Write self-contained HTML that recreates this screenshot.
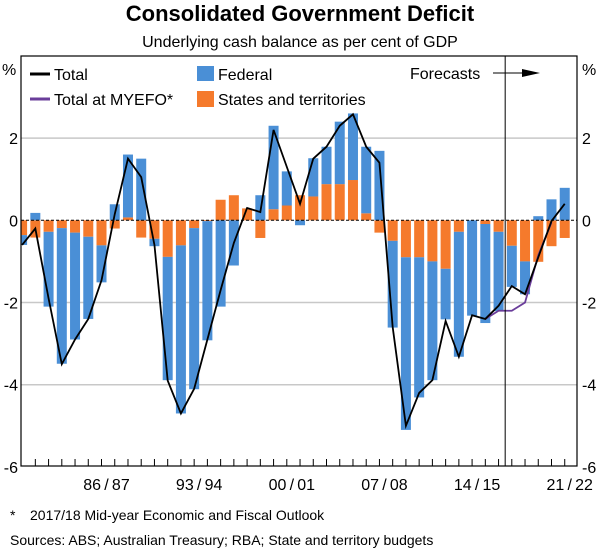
<!DOCTYPE html>
<html><head><meta charset="utf-8"><style>
body{margin:0;background:#fff;}
svg{display:block;font-family:"Liberation Sans",Arial,sans-serif;}
</style></head><body>
<svg id="chart" width="600" height="554" viewBox="0 0 600 554">
<text x="300" y="21" text-anchor="middle" font-size="22" font-weight="bold">Consolidated Government Deficit</text>
<text x="300" y="47" text-anchor="middle" font-size="16">Underlying cash balance as per cent of GDP</text>
<g id="grid"></g>
<g id="bars"></g>
<g id="zero"></g>
<g id="lines"></g>
<g id="axes"></g>
<g>
 <line x1="30" y1="74" x2="50" y2="74" stroke="#000" stroke-width="3"/>
 <text x="54" y="80" font-size="16">Total</text>
 <line x1="30" y1="99" x2="50" y2="99" stroke="#6a3d9a" stroke-width="3"/>
 <text x="54" y="105" font-size="16">Total at MYEFO*</text>
 <rect x="197" y="66" width="17" height="15" fill="#4a8fd6"/>
 <text x="218" y="80" font-size="16">Federal</text>
 <rect x="197" y="91" width="17" height="16" fill="#f57a2c"/>
 <text x="218" y="105" font-size="16">States and territories</text>
</g>
<g>
 <text x="410" y="79" font-size="16">Forecasts</text>
 <line x1="493" y1="73" x2="530" y2="73" stroke="#000" stroke-width="1"/>
 <polygon points="540,73 522,69 522,77" fill="#000"/>
</g>
<text x="10" y="520" font-size="14">*</text>
<text x="30" y="520" font-size="14">2017/18 Mid-year Economic and Fiscal Outlook</text>
<text x="10" y="545" font-size="14">Sources: ABS; Australian Treasury; RBA; State and territory budgets</text>
</svg>
<script>
const years = ["80/81","81/82","82/83","83/84","84/85","85/86","86/87","87/88","88/89","89/90","90/91","91/92","92/93","93/94","94/95","95/96","96/97","97/98","98/99","99/00","00/01","01/02","02/03","03/04","04/05","05/06","06/07","07/08","08/09","09/10","10/11","11/12","12/13","13/14","14/15","15/16","16/17","17/18","18/19","19/20","20/21","21/22"];
const federal = [-0.24,0.18,-1.82,-3.3,-2.6,-2.0,-0.9,0.39,1.53,1.5,-0.18,-3.0,-4.09,-3.92,-2.9,-2.1,-1.1,0.0,0.61,2.03,0.83,-0.12,0.93,0.91,1.52,1.62,1.62,1.69,-2.11,-4.2,-3.41,-2.89,-1.23,-3.04,-2.32,-2.41,-1.93,-1.0,-0.8,0.1,0.51,0.79];
const states = [-0.36,-0.42,-0.28,-0.19,-0.3,-0.4,-0.61,-0.2,0.07,-0.42,-0.45,-0.89,-0.61,-0.19,-0.02,0.5,0.61,0.29,-0.43,0.27,0.36,0.61,0.58,0.88,0.88,0.98,0.17,-0.3,-0.5,-0.9,-0.9,-1.0,-1.18,-0.28,0.0,-0.09,-0.28,-0.62,-1.0,-1.01,-0.63,-0.43];
const total = [-0.6,-0.2,-1.9,-3.5,-2.9,-2.4,-1.46,0.15,1.5,1.05,-0.6,-3.9,-4.7,-4.1,-2.9,-1.7,-0.55,0.3,0.2,2.2,1.3,0.4,1.5,1.79,2.3,2.58,1.79,1.4,-2.6,-5.0,-4.2,-3.89,-2.45,-3.32,-2.31,-2.4,-2.08,-1.6,-1.8,-0.9,-0.02,0.4];
const myefoStart = 35;
const myefo = [-2.4,-2.2,-2.2,-2.0,-0.85,-0.05];
const yTicks = [2,0,-2,-4,-6];
const xLabels = ["86/87","93/94","00/01","07/08","14/15","21/22"];
const forecastStartYear = "17/18";

const NS="http://www.w3.org/2000/svg";
const L=21, R=577, T=56, B=466;
const step=13.235, x0=22.1;
function xs(i){return x0+step*i;}
function ys(v){return 220.3-41.1*v;}
function mk(tag,attrs,parent){const e=document.createElementNS(NS,tag);for(const k in attrs)e.setAttribute(k,attrs[k]);parent.appendChild(e);return e;}
const grid=document.getElementById('grid'),bars=document.getElementById('bars'),zero=document.getElementById('zero'),lines=document.getElementById('lines'),axes=document.getElementById('axes');

yTicks.forEach(v=>{
  if(v!==0 && v!==-6){const g=mk('line',{x1:L,x2:R,y1:ys(v),y2:ys(v),stroke:'#c8c8c8','stroke-width':1.5},grid);
  
  }
  const t1=mk('text',{x:18,y:ys(v)+6,'text-anchor':'end','font-size':16},axes);t1.textContent=String(v);
  
  
  const t2=mk('text',{x:582,y:ys(v)+6,'font-size':16},axes);t2.textContent=String(v);
  
  
});
const pl=mk('text',{x:2,y:75,'font-size':16},axes);pl.textContent='%';


const pr=mk('text',{x:582,y:75,'font-size':16},axes);pr.textContent='%';



const bw=10;
years.forEach((y,i)=>{
  const cx=xs(i);let pos=0,neg=0;
  [[states[i],'#f57a2c','bar-states-'],[federal[i],'#4a8fd6','bar-federal-']].forEach(([v,c,n])=>{
    if(v===0)return;
    let y1,y2;
    if(v>0){y1=pos+v;y2=pos;pos+=v;}else{y1=neg;y2=neg+v;neg+=v;}
    const left=Math.max(L,cx-bw/2), right=cx+bw/2;
    const r=mk('rect',{x:left,y:ys(y1),width:right-left,height:ys(y2)-ys(y1),fill:c},bars);
    
    
  });
});
const zl=mk('line',{x1:L,x2:R,y1:ys(0),y2:ys(0),stroke:'#000','stroke-width':1,'stroke-dasharray':'3,2'},zero);



const mp=myefo.map((v,i)=>xs(i+myefoStart)+','+ys(v)).join(' ');
const ml=mk('polyline',{points:mp,fill:'none',stroke:'#6a3d9a','stroke-width':1.8},lines);


const tp=total.map((v,i)=>xs(i)+','+ys(v)).join(' ');
const tl=mk('polyline',{points:tp,fill:'none',stroke:'#000','stroke-width':1.8},lines);



const fi=years.indexOf(forecastStartYear);
const fx=(xs(fi)+xs(fi-1))/2;
const fl=mk('line',{x1:fx,x2:fx,y1:T,y2:B,stroke:'#000','stroke-width':1},axes);



const frame=mk('rect',{x:L,y:T,width:R-L,height:B-T,fill:'none',stroke:'#000','stroke-width':1.2},axes);



for(let i=1;i<years.length;i++){
  const tk=mk('line',{x1:xs(i),x2:xs(i),y1:B,y2:B-7,stroke:'#000','stroke-width':1},axes);
  
  
}
xLabels.forEach(lab=>{
  const i=years.indexOf(lab);
  const t=mk('text',{x:xs(i)+5,y:490,'text-anchor':'middle','font-size':16},axes);
  t.textContent=lab.replace('/','\u2009/\u2009');
  
  
});
</script>
</body></html>
